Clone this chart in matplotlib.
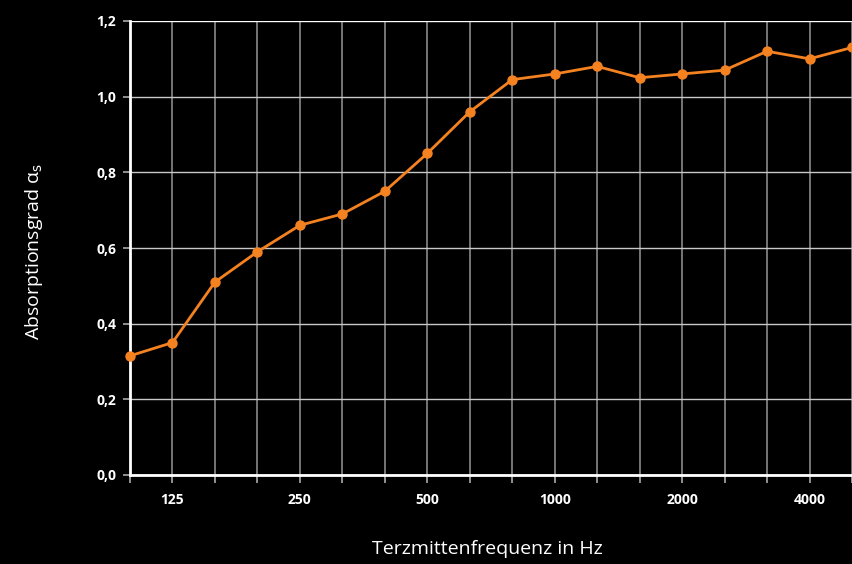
import matplotlib
matplotlib.use("Agg")
import matplotlib.pyplot as plt

freqs = [100, 125, 160, 200, 250, 315, 400, 500, 630, 800, 1000, 1250, 1600, 2000, 2500, 3150, 4000, 5000]
alpha = [0.315, 0.35, 0.51, 0.59, 0.66, 0.69, 0.75, 0.85, 0.96, 1.045, 1.06, 1.08, 1.05, 1.06, 1.07, 1.12, 1.10, 1.13]
labeled = [125, 250, 500, 1000, 2000, 4000]
yticks = [0.0, 0.2, 0.4, 0.6, 0.8, 1.0, 1.2]
ylabels = ["0,0", "0,2", "0,4", "0,6", "0,8", "1,0", "1,2"]

W, H = 852, 564
fig = plt.figure(figsize=(W / 100, H / 100), dpi=100, facecolor="black")
ax = fig.add_axes([130 / W, 1 - 475 / H, (852 - 130) / W, (475 - 21) / H], facecolor="black")

x = list(range(len(freqs)))
ax.set_xlim(0, len(freqs) - 1)
ax.set_ylim(0, 1.2)

ax.set_xticks(x)
ax.set_xticklabels([str(f) if f in labeled else "" for f in freqs],
                   color="white", fontsize=10, fontweight="bold", family="Open Sans")
ax.set_yticks(yticks)
ax.set_yticklabels(ylabels, color="white", fontsize=10, fontweight="bold", family="Open Sans")

ax.grid(axis="x", color="#8a8a8a", linewidth=1.2)
ax.grid(axis="y", color="#c8c8c8", linewidth=1.0)
ax.set_axisbelow(True)
ax.axhline(1.2, color="white", linewidth=1.5, zorder=1)

for s in ["top", "right"]:
    ax.spines[s].set_visible(False)
for s in ["left", "bottom"]:
    ax.spines[s].set_color("white")
    ax.spines[s].set_linewidth(2)

ax.tick_params(axis="x", colors="#aaaaaa", length=6, width=1.2, labelcolor="white", pad=7)
ax.tick_params(axis="y", colors="#aaaaaa", length=5, width=1.2, labelcolor="white", pad=5)

ax.plot(x, alpha, color="#f58220", linewidth=2, marker="o", markersize=6.5, clip_on=False, zorder=3)

fig.text(487 / W, 1 - 549 / H, "Terzmittenfrequenz in Hz", color="white", fontsize=14,
         family="Open Sans", ha="center", va="center")
fig.text(34 / W, 1 - 252 / H, "Absorptionsgrad α$_\\mathrm{s}$", color="white", fontsize=14,
         family="Open Sans", ha="center", va="center", rotation=90)

fig.savefig("out.png", dpi=100, facecolor="black")
